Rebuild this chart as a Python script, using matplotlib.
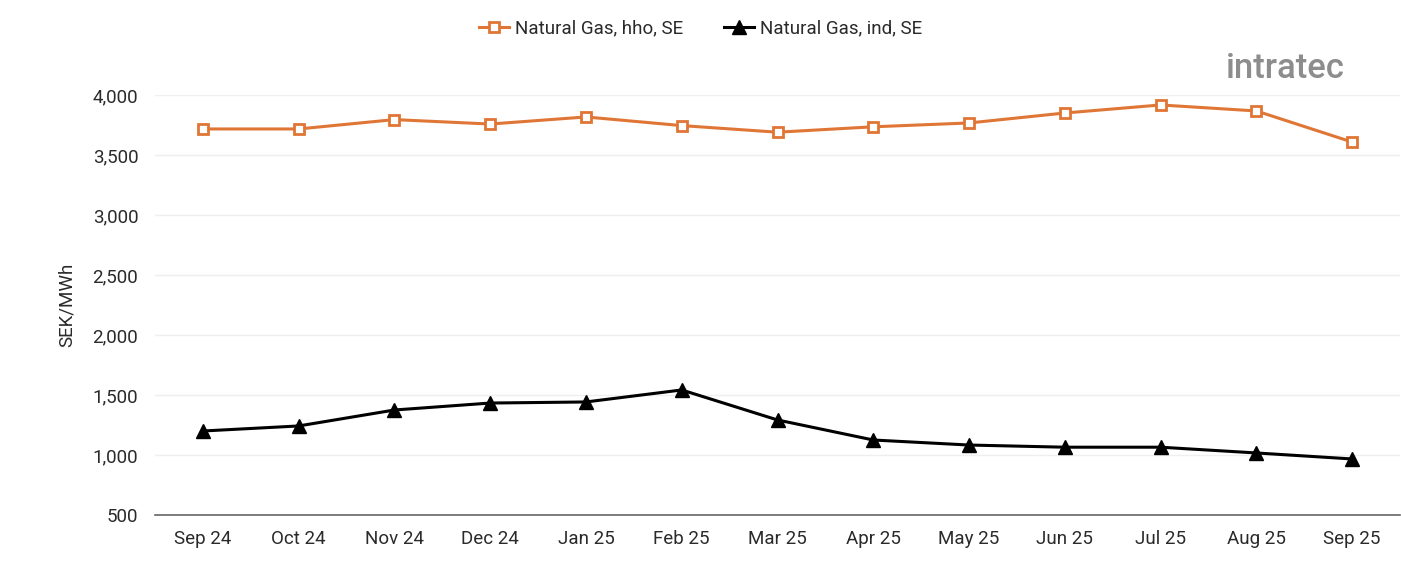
import matplotlib
matplotlib.use("Agg")
import matplotlib.pyplot as plt
from matplotlib.ticker import FuncFormatter

plt.rcParams['font.family'] = ['Roboto', 'DejaVu Sans']

months = ["Sep 24", "Oct 24", "Nov 24", "Dec 24", "Jan 25", "Feb 25", "Mar 25",
          "Apr 25", "May 25", "Jun 25", "Jul 25", "Aug 25", "Sep 25"]
hho = [3717, 3717, 3795, 3758, 3817, 3745, 3690, 3735, 3767, 3850, 3917, 3867, 3608]
ind = [1200, 1242, 1375, 1433, 1442, 1542, 1292, 1125, 1083, 1065, 1065, 1017, 967]

orange = "#E07636"
fig = plt.figure(figsize=(14.01, 5.61), dpi=100)
ax = fig.add_axes([155 / 1401, 46 / 561, 1245 / 1401, 420 / 561])

x = range(len(months))
ax.plot(x, hho, color=orange, lw=2.2, marker="s", ms=7.5, mfc="white", mec=orange,
        mew=2, label="Natural Gas, hho, SE")
ax.plot(x, ind, color="black", lw=2.2, marker="^", ms=9.5, label="Natural Gas, ind, SE")

ax.set_xlim(-0.5, 12.5)
ax.set_ylim(500, 4000)
ax.set_yticks(range(500, 4001, 500))
ax.yaxis.set_major_formatter(FuncFormatter(lambda v, p: f"{int(v):,}"))
ax.set_xticks(list(x))
ax.set_xticklabels(months)
ax.grid(axis="y", color="#efefef", lw=1)
ax.set_axisbelow(True)
for s in ["top", "right", "left"]:
    ax.spines[s].set_visible(False)
ax.spines["bottom"].set_color("#666666")
ax.spines["bottom"].set_linewidth(1.2)
ax.tick_params(axis="both", length=0, labelsize=13.5, colors="#2a2a2a", pad=12)
ax.tick_params(axis="x", pad=11)
ax.set_ylabel("SEK/MWh", fontsize=13.5, color="#2a2a2a", labelpad=12)

leg = fig.legend(loc="upper center", bbox_to_anchor=(0.5, 0.995), ncol=2, frameon=False,
                 handlelength=1.6, columnspacing=2.2, handletextpad=0.3,
                 prop={"size": 13.5})
for t in leg.get_texts():
    t.set_color("#2a2a2a")

# logo
fig.text(1226 / 1401, 1 - 68 / 561, "intratec", fontsize=25, color="#8d8d8d",
         fontweight="medium", va="center", ha="left")

fig.savefig("out.png", dpi=100)
